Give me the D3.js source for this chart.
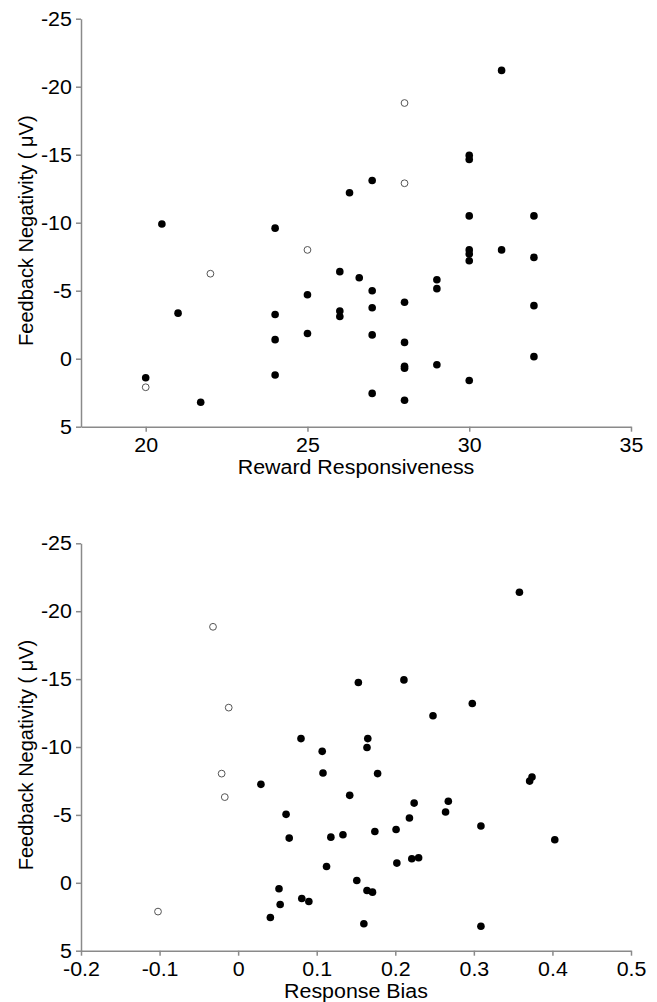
<!DOCTYPE html>
<meta charset="utf-8">
<style>
body { margin: 0; background: #fff; }
text { font-family: Arial, "Liberation Sans", sans-serif; fill: #000; }
.axis path, .axis line { stroke: #8a8a8a; stroke-width: 1.5; }
.axis text { font-size: 20px; fill: #000; }
</style>
<body></body>
<script src="https://cdn.jsdelivr.net/npm/d3@7"></script>
<script>

// Panel 1: reward responsiveness vs FRN
var rrFilledX = [20.5, 24, 31, 30, 30, 27, 26.3, 30, 32, 30, 30, 30, 31, 32, 26, 26.6, 27, 29, 29, 25, 28,
                 26, 26, 27, 32, 25, 27, 28, 32, 28, 28, 29, 30, 27, 28, 21, 24, 24, 24, 20, 21.7];
var rrFilledY = [-9.9, -9.6, -21.2, -14.95, -14.65, -13.1, -12.2, -10.5, -10.5, -8.0, -7.7, -7.2, -8.0, -7.45,
                 -6.4, -5.95, -5.0, -5.8, -5.15, -4.7, -4.15, -3.5, -3.1, -3.75, -3.9, -1.85, -1.75, -1.2,
                 -0.15, 0.55, 0.7, 0.45, 1.6, 2.55, 3.05, -3.35, -3.25, -1.4, 1.2, 1.4, 3.2];
var rrOpenX = [28, 28, 25, 22, 20];
var rrOpenY = [-18.8, -12.9, -8.0, -6.25, 2.1];
var rrTicks = [20, 25, 30, 35];

// Panel 2: response bias vs FRN
var rbFilledX = [0.080, 0.107, 0.358, 0.153, 0.211, 0.298, 0.248, 0.165, 0.164, 0.029, 0.108, 0.061, 0.065,
                 0.118, 0.1125, 0.052, 0.0535, 0.081, 0.090, 0.041, 0.1775, 0.371, 0.374, 0.142, 0.224,
                 0.2675, 0.264, 0.218, 0.309, 0.201, 0.174, 0.1334, 0.403, 0.202, 0.221, 0.2297, 0.151,
                 0.164, 0.171, 0.160, 0.309];
var rbFilledY = [-10.62, -9.68, -21.4, -14.75, -14.94, -13.2, -12.3, -10.62, -9.96, -7.25, -8.08, -5.04, -3.29,
                 -3.36, -1.2, 0.44, 1.6, 1.16, 1.38, 2.56, -8.04, -7.49, -7.79, -6.44, -5.87,
                 -6.0, -5.21, -4.77, -4.18, -3.93, -3.78, -3.54, -3.17, -1.45, -1.77, -1.84, -0.17,
                 0.57, 0.69, 3.02, 3.2];
var rbOpenX = [-0.032, -0.012, -0.021, -0.017, -0.102];
var rbOpenY = [-18.85, -12.9, -8.04, -6.31, 2.12];
var rbTicks = [-0.2, -0.1, 0, 0.1, 0.2, 0.3, 0.4, 0.5];

var frnTicks = [-25, -20, -15, -10, -5, 0, 5];

var width = 657, height = 1002;
var stretch = "scale(1.07,1)";

var svg = d3.select("body").append("svg")
    .attr("width", width)
    .attr("height", height);

function panel(top, bottom, xDomain, xTicks, xTitle, fx, fy, ox, oy) {
  var x = d3.scaleLinear().domain(xDomain).range([81, 631]);
  var y = d3.scaleLinear().domain([5, -25]).range([bottom, top]);

  var g = svg.append("g");

  var xAxis = g.append("g")
      .attr("class", "axis")
      .attr("transform", "translate(0," + bottom + ")")
      .call(d3.axisBottom(x).tickValues(xTicks).tickSize(5).tickSizeOuter(0).tickPadding(6)
              .tickFormat(function(d) { return String(d); }));
  xAxis.selectAll("text").attr("transform", stretch);

  var yAxis = g.append("g")
      .attr("class", "axis")
      .attr("transform", "translate(81,0)")
      .call(d3.axisLeft(y).tickValues(frnTicks).tickSize(5).tickSizeOuter(0).tickPadding(3.5)
              .tickFormat(function(d) { return String(d); }));
  yAxis.selectAll("text").attr("transform", stretch);
  g.selectAll(".axis .domain").attr("fill", "none");

  // axis titles
  g.append("text")
      .attr("transform", "translate(356," + (bottom + 47) + ") " + stretch)
      .attr("text-anchor", "middle")
      .attr("font-size", "20px")
      .text(xTitle);

  g.append("text")
      .attr("transform", "translate(33," + ((top + bottom) / 2 + 8) + ") rotate(-90)")
      .attr("text-anchor", "middle")
      .attr("font-size", "20px")
      .text("Feedback Negativity ( \u03bcV)");

  // filled dots
  g.append("g").selectAll("circle")
      .data(d3.range(fx.length))
      .enter().append("circle")
        .attr("cx", function(i) { return x(fx[i]); })
        .attr("cy", function(i) { return y(fy[i]); })
        .attr("r", 3.8)
        .attr("fill", "#000");

  // open dots
  g.append("g").selectAll("circle")
      .data(d3.range(ox.length))
      .enter().append("circle")
        .attr("cx", function(i) { return x(ox[i]); })
        .attr("cy", function(i) { return y(oy[i]); })
        .attr("r", 3.4)
        .attr("fill", "#fff")
        .attr("stroke", "#555")
        .attr("stroke-width", 1);
}

panel(18.7, 426.7, [18, 35], rrTicks, "Reward Responsiveness", rrFilledX, rrFilledY, rrOpenX, rrOpenY);
panel(543.3, 950.7, [-0.2, 0.5], rbTicks, "Response Bias", rbFilledX, rbFilledY, rbOpenX, rbOpenY);

</script>
